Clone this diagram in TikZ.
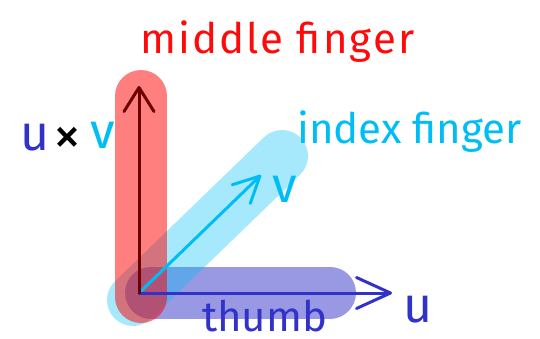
\documentclass[tikz,border=0pt]{standalone}
\usepackage{fontspec}
\setmainfont{Fira Sans}
\usetikzlibrary{arrows.meta}
\definecolor{redtxt}{RGB}{255,10,10}
\definecolor{cyanc}{RGB}{0,190,245}
\definecolor{bluec}{RGB}{50,50,200}
\definecolor{darkred}{RGB}{110,0,0}
\tikzset{
  band/.style={line width=52pt, line cap=round},
  vecline/.style={line width=3pt, line cap=round, line join=round},
  lbl/.style={inner sep=0pt, anchor=base west, font=\fontsize{42}{48}\selectfont},
  biglbl/.style={inner sep=0pt, anchor=base west, font=\fontsize{50}{56}\selectfont},
}
\begin{document}
\begin{tikzpicture}[x=1pt,y=-1pt]
\useasboundingbox (0,0) rectangle (540,338);
% coordinates
\coordinate (O) at (139,293);
\coordinate (U) at (392,293);
\coordinate (V) at (261,175);
\coordinate (W) at (139,86);
\coordinate (b1) at (151,292.5);
\coordinate (b2) at (330,292.5);
\coordinate (c1) at (133,300);
\coordinate (c2) at (282,156);
\coordinate (r1) at (141,297);
\coordinate (r2) at (141,96);
% bands
\draw[band, bluec, draw opacity=0.5] (b1) -- (b2);
\draw[band, cyanc, draw opacity=0.35] (c1) -- (c2);
\draw[band, red, draw opacity=0.5] (r1) -- (r2);
% vectors
\draw[vecline, cyanc, -{Straight Barb[length=26pt,width=26pt,round]}] (O) -- (V);
\draw[vecline, bluec, -{Straight Barb[length=34pt,width=31pt,round]}] (O) -- (U);
\draw[vecline, darkred, -{Straight Barb[length=24pt,width=30pt,round]}] (O) -- (W);
% labels
\node[lbl, text=redtxt, font=\fontsize{42}{48}\selectfont\addfontfeature{LetterSpace=5}] (mid) at (140,53) {middle finger};
\node[lbl, text=cyanc] (idx) at (297,143) {index finger};
\node[lbl, text=bluec] (thb) at (202,331) {thumb};
\node[biglbl, text=bluec] (ul) at (403,322) {u};
\node[biglbl, text=cyanc] (vl) at (272,202) {v};
\node[biglbl, text=bluec] (cu) at (20,150) {u};
\node[inner sep=0pt, anchor=base west, font=\fontsize{56}{60}\selectfont] (cx) at (53,154) {×};
\node[biglbl, text=cyanc] (cv) at (90,148) {v};
\end{tikzpicture}
\end{document}
